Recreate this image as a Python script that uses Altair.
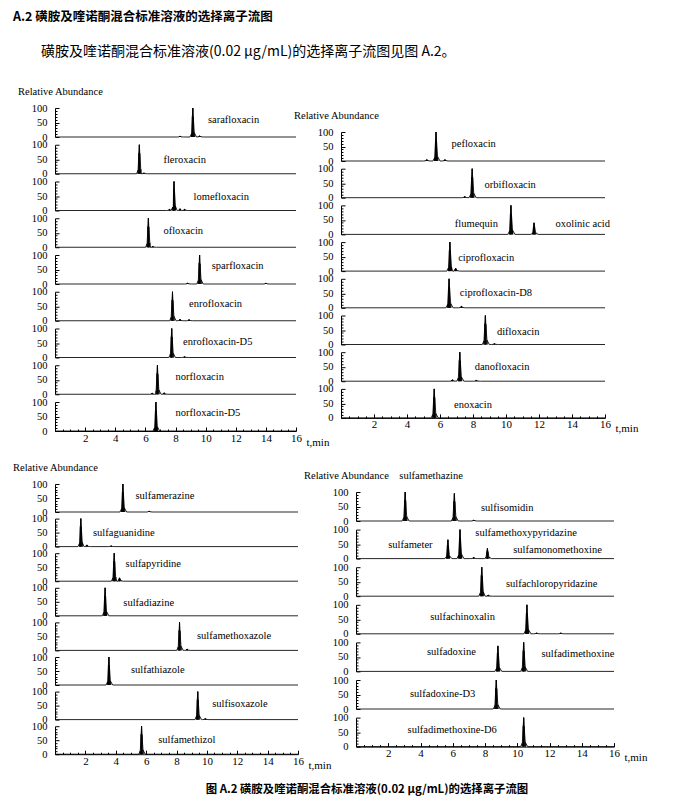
import altair as alt
import pandas as pd

# ---------------- data ----------------
X_MAX = 16
X_TICKS = [i * 0.5 for i in range(33)]
Y_TICKS = [i * 10 for i in range(11)]

# generic peak profile (relative offsets in peak half-widths, relative height)
PEAK_DX = [-1.0, -0.45, -0.15, 0.0, 0.15, 0.5, 1.3]
PEAK_F = [0.0, 0.12, 0.72, 1.0, 0.7, 0.15, 0.0]
PEAK_W = 0.19

# top-left: quinolones
TL_RT = [[9.15, 8.3, 9.6], [5.6, 5.9], [7.9, 7.6, 8.3, 8.6], [6.2, 6.5], [9.6, 8.8, 14.0],
         [7.8, 8.3, 8.9], [7.75, 8.6], [6.8, 6.45, 7.25], [6.7]]
TL_H = [[100, 3, 4], [100, 3], [100, 4, 6, 4], [100, 3], [100, 3, 3],
        [100, 5, 4], [100, 3], [100, 4, 5], [100]]
TL_TXT = [["sarafloxacin"], ["fleroxacin"], ["lomefloxacin"], ["ofloxacin"], ["sparfloxacin"],
          ["enrofloxacin"], ["enrofloxacin-D5"], ["norfloxacin"], ["norfloxacin-D5"]]
TL_TX = [[10.15], [7.2], [9.2], [7.2], [10.4], [8.9], [8.5], [8.0], [8.0]]
TL_TY = [[59], [48], [45], [55], [62], [58], [55], [58], [62]]

# top-right: quinolones
TR_RT = [[5.76, 5.2, 6.3], [7.95, 7.5], [10.3, 11.7], [6.6, 6.95], [6.55, 7.3],
         [8.75, 9.3], [7.2, 6.75, 8.2], [5.65]]
TR_H = [[100, 5, 5], [100, 4], [100, 40], [100, 10], [100, 5],
        [100, 3], [100, 5, 3], [100]]
TR_TXT = [["pefloxacin"], ["orbifloxacin"], ["flumequin", "oxolinic acid"], ["ciprofloxacin"],
          ["ciprofloxacin-D8"], ["difloxacin"], ["danofloxacin"], ["enoxacin"]]
TR_TX = [[6.7], [8.7], [6.9, 13.0], [7.1], [7.2], [9.45], [8.1], [6.85]]
TR_TY = [[58], [45], [36, 36], [45], [50], [43], [50], [46]]

# bottom-left: sulfonamides
BL_RT = [[4.47, 6.2], [1.7, 2.1, 3.7], [3.9, 4.25], [3.3], [8.2, 8.7], [3.55], [9.4, 9.9], [5.7]]
BL_H = [[100, 3], [100, 6, 3], [100, 12], [100], [100, 5], [100], [100, 4], [100]]
BL_TXT = [["sulfamerazine"], ["sulfaguanidine"], ["sulfapyridine"], ["sulfadiazine"],
          ["sulfamethoxazole"], ["sulfathiazole"], ["sulfisoxazole"], ["sulfamethizol"]]
BL_TX = [[5.3], [2.5], [4.65], [4.5], [9.35], [5.0], [10.35], [6.8]]
BL_TY = [[57], [50], [62], [45], [52], [55], [55], [50]]

# bottom-right: sulfonamides
BR_RT = [[3.05, 6.1, 7.3], [5.7, 6.45, 8.15, 7.3], [7.8, 8.2], [10.6, 11.2, 12.7],
         [8.8, 10.4], [8.7], [10.4]]
BR_H = [[100, 95, 3], [65, 100, 35, 4], [100, 4], [100, 3, 3], [88, 100], [100], [100]]
BR_TXT = [["sulfisomidin"], ["sulfameter", "sulfamethoxypyridazine", "sulfamonomethoxine"],
          ["sulfachloropyridazine"], ["sulfachinoxalin"], ["sulfadoxine", "sulfadimethoxine"],
          ["sulfadoxine-D3"], ["sulfadimethoxine-D6"]]
BR_TX = [[7.75], [2.0, 7.4, 9.75], [9.3], [4.6], [4.4, 11.5], [3.35], [3.2]]
BR_TY = [[46], [46, 90, 29], [43], [57], [68, 60], [53], [57]]

HEADER = "A.2  磺胺及喹诺酮混合标准溶液的选择离子流图"
SUBHEADER = "\u200b\u3000\u3000磺胺及喹诺酮混合标准溶液(0.02 μg/mL)的选择离子流图见图 A.2。"
CAPTION = "图 A.2  磺胺及喹诺酮混合标准溶液(0.02 μg/mL)的选择离子流图"

SERIF = "Liberation Serif"
CJK = "Noto Sans CJK SC"
NO_FRAME = alt.ViewBackground(strokeWidth=0, stroke="transparent", strokeOpacity=0,
                              fill="transparent")


def trace_df(rts, hs):
    pts = [(0.05, 0.0), (X_MAX, 0.0)]
    for rt, h in zip(rts, hs):
        for dx, f in zip(PEAK_DX, PEAK_F):
            pts.append((rt + dx * PEAK_W, h * f))
    pts.sort()
    return pd.DataFrame({"t": [p[0] for p in pts], "v": [p[1] for p in pts],
                         "seq": list(range(len(pts)))})


def spacer(h):
    return alt.Chart(pd.DataFrame({"s": [0]})).mark_rule(opacity=0).encode(
        x=alt.value(0), x2=alt.value(1), y=alt.value(0)
    ).properties(width=1, height=h, view=NO_FRAME)


def panel(rts, hs, texts, tx, ty, width, height, last):
    y_axis = alt.Axis(
        values=Y_TICKS,
        labelExpr="datum.value % 50 === 0 ? datum.value : ''",
        tickSize=alt.ExprRef("datum.value % 50 === 0 ? -4 : -2"),
        labelPadding=12, grid=False, title=None,
        labelFont=SERIF, labelFontSize=10.5, labelColor="black",
        domainColor="black", tickColor="black", labelFlush=False,
    )
    xscale = alt.Scale(domain=[0, X_MAX], nice=False, zero=False)
    if last:
        x_axis = alt.Axis(
            values=X_TICKS,
            labelExpr="datum.value > 0 && datum.value % 2 === 0 ? datum.value : ''",
            tickSize=alt.ExprRef("datum.value % 2 === 0 ? -4 : -2"),
            labelPadding=5, grid=False, title="t,min",
            titleX=width + 10, titleY=14, titleAlign="left", titleBaseline="alphabetic",
            titleFont=SERIF, titleFontSize=11, titleFontWeight="normal", titleColor="black",
            labelFont=SERIF, labelFontSize=11, labelColor="black",
            domainColor="black", tickColor="black", labelFlush=False,
        )
        x = alt.X("t:Q", scale=xscale, axis=x_axis)
    else:
        x = alt.X("t:Q", scale=xscale, axis=None)
    y = alt.Y("v:Q", scale=alt.Scale(domain=[0, 100], nice=False), axis=y_axis)
    trace = alt.Chart(trace_df(rts, hs)).mark_area(
        color="#b4b4b4", opacity=1, interpolate="linear",
        line={"color": "black", "strokeWidth": 0.85, "strokeJoin": "bevel"},
    ).encode(x=x, y=y, order="seq:Q")
    labels = pd.DataFrame({"t": tx, "v": ty, "label": texts})
    text = alt.Chart(labels).mark_text(
        align="left", baseline="middle", font=SERIF, fontSize=10.5, color="black",
    ).encode(x=x, y=y, text="label:N")
    return alt.layer(trace, text).properties(width=width, height=height, view=NO_FRAME)


def group(rts, hs, texts, tx, ty, width, height, spacing, title, title_dx, top_gap):
    n = len(rts)
    panels = [panel(rts[i], hs[i], texts[i], tx[i], ty[i], width, height, i == n - 1)
              for i in range(n)]
    col = alt.vconcat(*panels, spacing=spacing, bounds="flush").properties(
        title=alt.TitleParams(
            text=title, anchor="start", frame="group", dx=title_dx,
            font=SERIF, fontSize=10.5, fontWeight="normal", color="black", offset=6,
        ),
    )
    return alt.vconcat(spacer(top_gap), col, spacing=0)


tl = group(TL_RT, TL_H, TL_TXT, TL_TX, TL_TY, 241, 29, 7.75, "Relative Abundance", -37, 1)
tr = group(TR_RT, TR_H, TR_TXT, TR_TX, TR_TY, 264, 29, 7.7, "Relative Abundance", -47, 25)
bl = group(BL_RT, BL_H, BL_TXT, BL_TX, BL_TY, 243, 28, 6.6, "Relative Abundance", -42, 1)
br = group(BR_RT, BR_H, BR_TXT, BR_TX, BR_TY, 258, 29, 8.6,
           "Relative Abundance\u2003sulfamethazine", -52, 9)

top = alt.hconcat(tl, tr, spacing=-35)
bottom = alt.hconcat(bl, br, spacing=-27).properties(
    title=alt.TitleParams(
        text=CAPTION, orient="bottom", anchor="middle", dx=37, offset=14,
        font=CJK, fontSize=11.4, fontWeight="bold", color="black",
    )
)

chart = alt.vconcat(top, bottom, spacing=14).properties(
    title=alt.TitleParams(
        text=HEADER, subtitle=SUBHEADER, anchor="start", frame="bounds",
        font=CJK, fontSize=12.5, fontWeight="bold", color="black",
        subtitleFont=CJK, subtitleFontSize=14, subtitleColor="black",
        subtitlePadding=22, offset=26,
    ),
    padding={"left": 5, "top": 2, "right": 5, "bottom": 5},
    background="white",
).configure(
    view=alt.ViewConfig(stroke="transparent", strokeWidth=0, strokeOpacity=0),
    style={"cell": {"stroke": "transparent", "strokeWidth": 0, "strokeOpacity": 0}},
)

chart.save("out.html", embed_options={"renderer": "svg", "actions": False})
